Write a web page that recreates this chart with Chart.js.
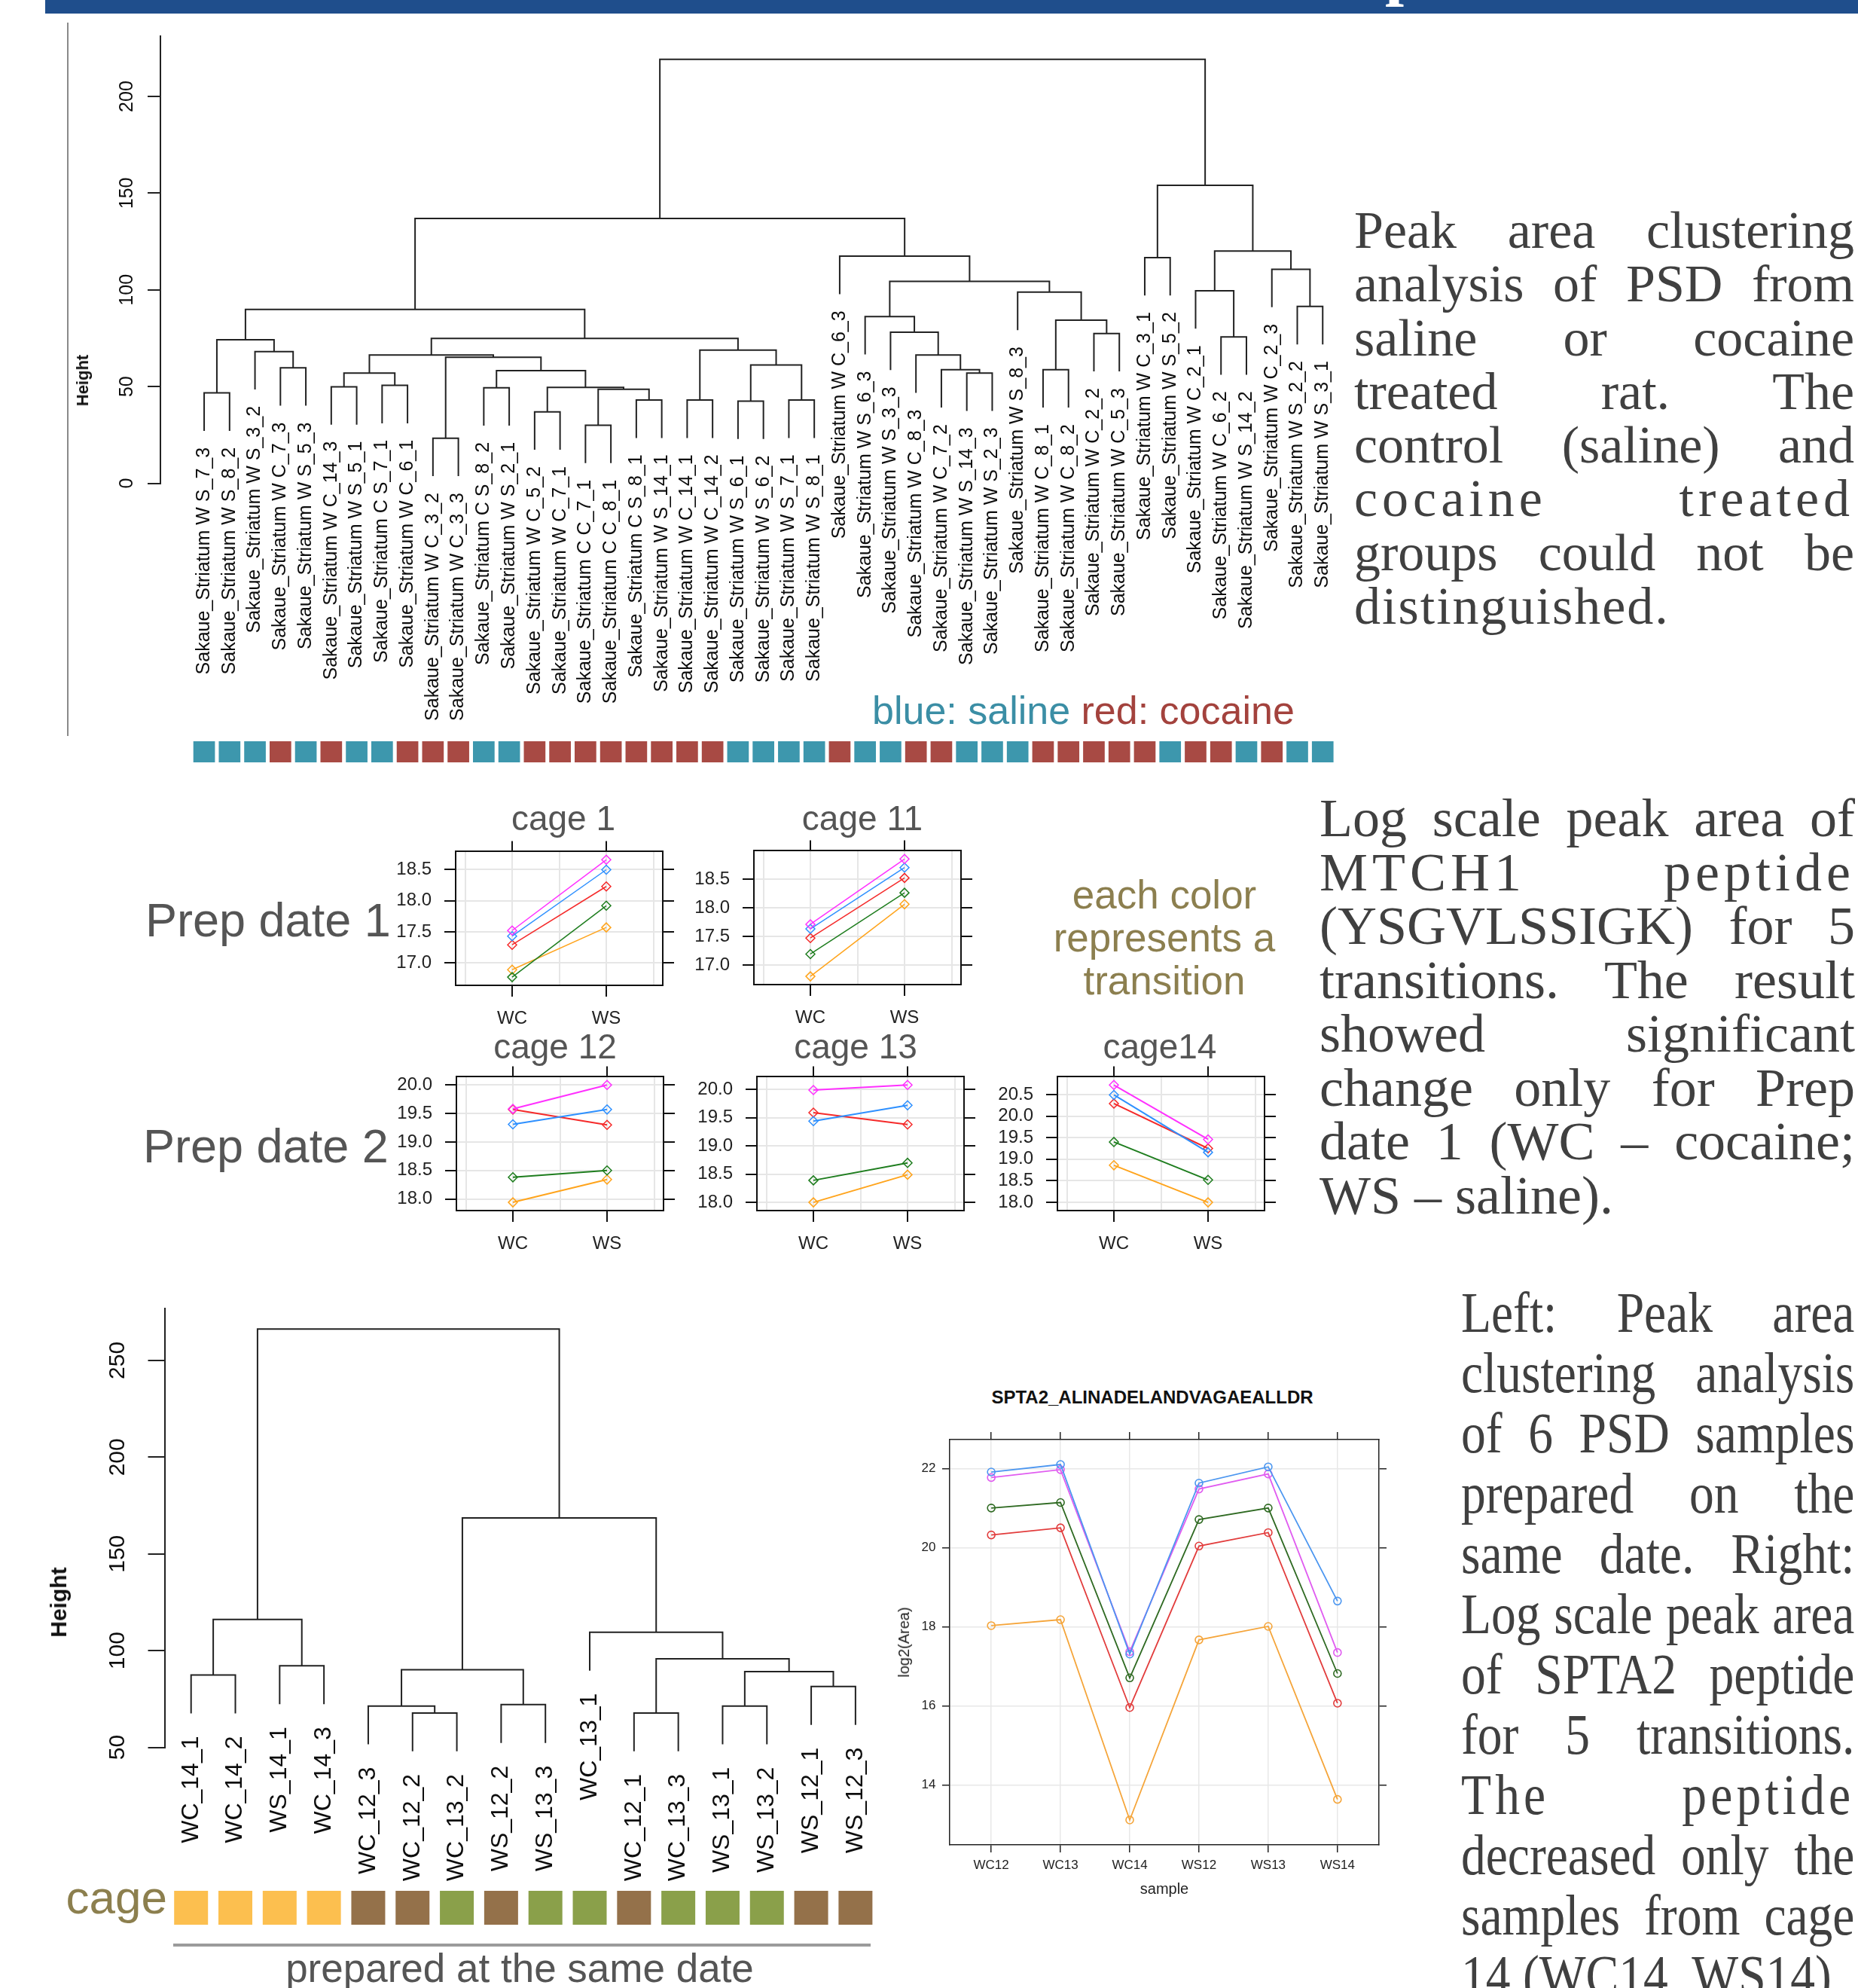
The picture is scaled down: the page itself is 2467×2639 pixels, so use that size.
<!DOCTYPE html>
<html>
<head>
<meta charset="utf-8">
<script src="https://cdn.jsdelivr.net/npm/chart.js@4.4.1/dist/chart.umd.min.js"></script>
<style>
  html, body { margin: 0; padding: 0; background: #fff; }
  #page { position: relative; width: 2467px; height: 2639px; overflow: hidden; background: #fff; }
  canvas { position: absolute; }
  .txt { position: absolute; white-space: nowrap; }
  .para { position: absolute; font-family: "Liberation Serif", "Times New Roman", serif; color: #404040; }
  .para div { text-align: justify; text-align-last: justify; }
  .para div.last { text-align: left; text-align-last: left; }
</style>
</head>
<body>
<div id="page">
  <div style="position:absolute; left:60px; top:0; width:2407px; height:18px; background:#1f4e8c; overflow:hidden;">
    <span style="position:absolute; left:1779px; top:-85px; font:bold 90px 'Liberation Serif'; line-height:90px; color:#fff;">p</span>
  </div>
  <div style="position:absolute; left:89px; top:30px; width:2px; height:947px; background:#8a8a8a;"></div>
</div>
<script>
// ---------- data ----------
const topLeafIds = [
  "W S_7_3", "W S_8_2", "W S_3_2", "W C_7_3", "W S_5_3", "W C_14_3", "W S_5_1", "C S_7_1", "W C_6_1",
  "W C_3_2", "W C_3_3", "C S_8_2", "W S_2_1", "W C_5_2", "W C_7_1", "C C_7_1", "C C_8_1", "C S_8_1",
  "W S_14_1", "W C_14_1", "W C_14_2", "W S_6_1", "W S_6_2", "W S_7_1", "W S_8_1", "W C_6_3", "W S_6_3",
  "W S_3_3", "W C_8_3", "W C_7_2", "W S_14_3", "W S_2_3", "W S_8_3", "W C_8_1", "W C_8_2", "W C_2_2",
  "W C_5_3", "W C_3_1", "W S_5_2", "W C_2_1", "W C_6_2", "W S_14_2", "W C_2_3", "W S_2_2", "W S_3_1"
];
const topLeaves = topLeafIds.map(s => "Sakaue_Striatum " + s);
const topGroups = "SSSCSCSSCCCSSCCCCCCCCSSSSCSSCCSSSCCCCCSCCSCSS".split("");
const topMerge = [
  [-1, -2], [-4, -5], [-3, 2], [1, 3], [-6, -7], [-8, -9], [5, 6], [-10, -11], [-12, -13], [-14, -15],
  [-16, -17], [-18, -19], [11, 12], [10, 13], [9, 14], [8, 15], [7, 16], [-20, -21], [-22, -23], [-24, -25],
  [19, 20], [18, 21], [17, 22], [4, 23], [-31, -32], [-30, 25], [-29, 26], [-28, 27], [-27, 28], [-34, -35],
  [-36, -37], [30, 31], [-33, 32], [29, 33], [-26, 34], [24, 35], [-38, -39], [-41, -42], [-40, 38], [-44, -45],
  [-43, 40], [39, 41], [37, 42], [36, 43]
];
const topHeight = [
  46.7, 59.7, 68.1, 74.2, 49.9, 50.6, 57.0, 23.3, 49.4, 36.9,
  30.0, 43.0, 48.6, 49.6, 58.2, 65.1, 66.3, 43.0, 42.5, 43.0,
  61.2, 68.8, 74.9, 89.9, 57.0, 58.7, 66.3, 78.1, 86.2, 58.7,
  77.4, 84.3, 98.8, 104.4, 117.4, 136.9, 116.7, 75.7, 99.5, 91.4,
  110.6, 120.1, 154.1, 219.2
];
const topYTicks = [0, 50, 100, 150, 200];

const botLeaves = ["WC_14_1", "WC_14_2", "WS_14_1", "WC_14_3", "WC_12_3", "WC_12_2", "WC_13_2", "WS_12_2",
  "WS_13_3", "WC_13_1", "WC_12_1", "WC_13_3", "WS_13_1", "WS_13_2", "WS_12_1", "WS_12_3"];
const botCage = [14, 14, 14, 14, 12, 12, 13, 12, 13, 13, 12, 13, 13, 13, 12, 12];
const botMerge = [
  [-1, -2], [-3, -4], [1, 2], [-6, -7], [-5, 4], [-8, -9], [5, 6], [-11, -12], [-13, -14], [-15, -16],
  [9, 10], [8, 11], [-10, 12], [7, 13], [3, 14]
];
const botHeight = [87.4, 92.2, 116.1, 67.8, 71.4, 72.1, 90.1, 67.8, 71.4, 81.5, 89.2, 95.8, 109.5, 168.6, 266.2];
const botYTicks = [50, 100, 150, 200, 250];

// transitions: magenta, blue, red, green, orange
const cage1WC = [17.52, 17.43, 17.29, 16.77, 16.89];
const cage1WS = [18.66, 18.50, 18.23, 17.92, 17.57];
const cage11WC = [17.71, 17.63, 17.47, 17.19, 16.80];
const cage11WS = [18.85, 18.70, 18.52, 18.26, 18.06];
const cage12WC = [19.58, 19.31, 19.57, 18.38, 17.94];
const cage12WS = [20.00, 19.57, 19.30, 18.50, 18.34];
const cage13WC = [19.99, 19.44, 19.59, 18.39, 18.00];
const cage13WS = [20.08, 19.72, 19.38, 18.70, 18.49];
const cage14WC = [20.72, 20.49, 20.29, 19.40, 18.86];
const cage14WS = [19.46, 19.16, 19.25, 18.52, 18.00];
const ticksDate1 = [17.0, 17.5, 18.0, 18.5];
const ticksDate2 = [18.0, 18.5, 19.0, 19.5, 20.0];
const ticksCage14 = [18.0, 18.5, 19.0, 19.5, 20.0, 20.5];

const sampleLabels = ["WC12", "WC13", "WC14", "WS12", "WS13", "WS14"];
const spta2Blue = [21.91, 22.10, 17.31, 21.63, 22.04, 18.65];
const spta2Magenta = [21.77, 21.97, 17.37, 21.48, 21.86, 17.35];
const spta2Green = [21.00, 21.14, 16.71, 20.71, 21.00, 16.82];
const spta2Red = [20.32, 20.50, 15.96, 20.04, 20.38, 16.07];
const spta2Orange = [18.03, 18.18, 13.12, 17.67, 18.01, 13.64];
const spta2YTicks = [14, 16, 18, 20, 22];

// ---------- helpers ----------
const SANS = '"Liberation Sans", Arial, Helvetica, sans-serif';
Chart.defaults.font.family = SANS;
Chart.defaults.animation = false;
const page = document.getElementById("page");

function makeCanvas(left, top, w, h) {
  const c = document.createElement("canvas");
  c.width = w; c.height = h;
  c.style.left = left + "px"; c.style.top = top + "px";
  c.style.width = w + "px"; c.style.height = h + "px";
  page.appendChild(c);
  return c.getContext("2d");
}

function addText(html, o) {
  const d = document.createElement("div");
  d.className = "txt";
  d.innerHTML = html;
  d.style.font = (o.weight || "normal") + " " + o.size + "px " + (o.family || SANS);
  d.style.lineHeight = o.size + "px";
  d.style.color = o.color || "#555";
  d.style.top = (o.baseline - 0.8465 * o.size) + "px";
  if (o.align === "center") { d.style.left = o.x + "px"; d.style.transform = "translateX(-50%)"; }
  else if (o.align === "right") { d.style.right = (2467 - o.x) + "px"; }
  else { d.style.left = o.x + "px"; }
  page.appendChild(d);
}

function addRotText(str, cx, cy, size, weight, color) {
  const d = document.createElement("div");
  d.className = "txt";
  d.textContent = str;
  d.style.font = weight + " " + size + "px " + SANS;
  d.style.lineHeight = size + "px";
  d.style.color = color;
  d.style.left = cx + "px"; d.style.top = cy + "px";
  d.style.transform = "translate(-50%, -50%) rotate(-90deg)";
  page.appendChild(d);
}

function addPara(lines, o) {
  const box = document.createElement("div");
  box.className = "para";
  box.style.left = o.x + "px"; box.style.top = o.top + "px"; box.style.width = o.width + "px";
  box.style.fontSize = o.size + "px"; box.style.lineHeight = o.lh + "px";
  if (o.scaleX) { box.style.transform = "scaleX(" + o.scaleX + ")"; box.style.transformOrigin = "0 0"; }
  lines.forEach((ln, i) => {
    const d = document.createElement("div");
    d.textContent = typeof ln === "string" ? ln : ln.text;
    if (ln.ls) d.style.letterSpacing = ln.ls + "px";
    if (i === lines.length - 1) d.className = "last";
    box.appendChild(d);
  });
  page.appendChild(box);
}

// R style hclust layout: leaves hang 0.1 * range(height) below their merge
function layoutDendro(merge, heights) {
  const hang = 0.1 * (Math.max(...heights) - Math.min(...heights));
  const nodes = [], bottoms = [], segs = [];
  merge.forEach((pair, i) => {
    const h = heights[i];
    const ends = pair.map(id => {
      if (id < 0) { bottoms[-id - 1] = h - hang; return { x: -id, y: h - hang }; }
      return nodes[id - 1];
    });
    segs.push([{ x: ends[0].x, y: ends[0].y }, { x: ends[0].x, y: h }, { x: ends[1].x, y: h }, { x: ends[1].x, y: ends[1].y }]);
    nodes.push({ x: (ends[0].x + ends[1].x) / 2, y: h });
  });
  return { segs, bottoms };
}

function dendroText(cfg) {
  return {
    id: "dendroText",
    afterDatasetsDraw(chart) {
      const { ctx } = chart;
      const x = chart.scales.x, y = chart.scales.y;
      ctx.save();
      ctx.fillStyle = "#0d0d0d";
      ctx.textBaseline = "middle";
      ctx.font = cfg.tickFont;
      ctx.textAlign = "center";
      cfg.ticks.forEach(v => {
        ctx.save();
        ctx.translate(cfg.tickX, y.getPixelForValue(v));
        ctx.rotate(-Math.PI / 2);
        ctx.fillText(String(v), 0, 0);
        ctx.restore();
      });
      ctx.font = cfg.leafFont;
      ctx.textAlign = "right";
      cfg.labels.forEach((lab, i) => {
        ctx.save();
        ctx.translate(x.getPixelForValue(i + 1), y.getPixelForValue(cfg.bottoms[i]) + cfg.gap);
        ctx.rotate(-Math.PI / 2);
        ctx.fillText(lab, 0, 0);
        ctx.restore();
      });
      ctx.restore();
    }
  };
}

function drawDendro(d) {
  const lay = layoutDendro(d.merge, d.heights);
  const ctx = makeCanvas(d.left, d.top, d.w, d.h);
  new Chart(ctx, {
    type: "scatter",
    data: {
      datasets: lay.segs.map(s => ({
        data: s, showLine: true, borderColor: "#222", borderWidth: 2, pointRadius: 0, clip: false
      }))
    },
    options: {
      responsive: false, animation: false, devicePixelRatio: 1,
      layout: { padding: d.padding },
      plugins: { legend: { display: false }, tooltip: { enabled: false } },
      scales: {
        x: { type: "linear", display: false, min: d.xMin, max: d.xMax },
        y: {
          type: "linear", position: "left", min: d.yMin, max: d.yMax,
          afterFit: s => { s.width = d.axisX; },
          afterBuildTicks: s => { s.ticks = d.yTicks.map(v => ({ value: v })); },
          ticks: { display: false },
          grid: { drawOnChartArea: false, tickLength: d.tickLen, tickColor: "#222", lineWidth: 2 },
          border: { color: "#222", width: 2 }
        }
      }
    },
    plugins: [dendroText({
      ticks: d.yTicks, tickX: d.tickX, tickFont: d.tickFont, leafFont: d.leafFont,
      labels: d.labels, bottoms: lay.bottoms, gap: d.gap
    })]
  });
}

function drawStrip(s) {
  const ctx = makeCanvas(s.left, s.top, s.w, s.h);
  new Chart(ctx, {
    type: "bar",
    data: {
      datasets: [{
        data: s.colors.map((c, i) => ({ x: i + 1, y: 1 })),
        backgroundColor: s.colors, borderWidth: 0,
        barPercentage: s.bar, categoryPercentage: 1
      }]
    },
    options: {
      responsive: false, animation: false, devicePixelRatio: 1,
      layout: { padding: { left: s.padLeft, right: s.padRight, top: 0, bottom: 0 } },
      plugins: { legend: { display: false }, tooltip: { enabled: false } },
      scales: {
        x: { type: "linear", display: false, min: s.xMin, max: s.xMax, offset: false },
        y: { display: false, min: 0, max: 1 }
      }
    }
  });
}

// ---------- top dendrogram ----------
drawDendro({
  left: 0, top: 0, w: 1800, h: 1030,
  merge: topMerge, heights: topHeight, labels: topLeaves, yTicks: topYTicks,
  xMin: -0.72, xMax: 46, yMin: 0, yMax: 231.3,
  padding: { left: 0, right: 10, top: 47.7, bottom: 388.5 },
  axisX: 213, tickLen: 17, tickX: 169, gap: 22,
  tickFont: "25px " + SANS, leafFont: "25px " + SANS
});
drawStrip({
  left: 0, top: 984, w: 1800, h: 28, padLeft: 213, padRight: 10, xMin: -0.72, xMax: 46, bar: 0.85,
  colors: topGroups.map(g => g === "S" ? "#3d97ad" : "#a84a44")
});
addRotText("Height", 110, 505, 22, "bold", "#111");
addText('<span style="color:#3b8ea5">blue: saline </span><span style="color:#a3423d">red: cocaine</span>',
  { x: 1158, baseline: 961, size: 52 });

// ---------- lattice panels ----------
const transColors = ["#ff30ff", "#2e90ff", "#f52a2a", "#1e7d1e", "#ffa41c"];

function drawPanel(p) {
  const L = 140, R = 30, T = 30, B = 60, W = 275, H = 179;
  const ctx = makeCanvas(p.boxLeft - L, p.boxTop - T, L + W + R, T + H + B);
  const all = p.wc.concat(p.ws);
  const lo = Math.min(...all), hi = Math.max(...all), pad = 0.07 * (hi - lo);
  const yMin = lo - pad, yMax = hi + pad;
  const tickFont = { family: SANS, size: 24 };
  const ink = "#111";
  new Chart(ctx, {
    type: "line",
    data: {
      datasets: p.wc.map((v, i) => ({
        data: [{ x: 1, y: v }, { x: 2, y: p.ws[i] }],
        borderColor: transColors[i], borderWidth: p.lw,
        pointStyle: "rectRot", pointRadius: 6, pointBorderWidth: 1.5,
        pointBackgroundColor: "rgba(0,0,0,0)", pointBorderColor: transColors[i]
      }))
    },
    options: {
      responsive: false, animation: false, devicePixelRatio: 1,
      layout: { padding: 0 },
      plugins: { legend: { display: false }, tooltip: { enabled: false } },
      scales: {
        x: {
          type: "linear", position: "bottom", min: 0.4, max: 2.6,
          afterFit: s => { s.height = B; },
          afterBuildTicks: s => { s.ticks = [0.5, 1, 1.5, 2, 2.5].map(v => ({ value: v })); },
          ticks: { autoSkip: false, maxRotation: 0, padding: 15, font: tickFont, color: "#222",
            callback: v => v === 1 ? "WC" : (v === 2 ? "WS" : "") },
          grid: { color: "#e6e6e6", lineWidth: 2, tickLength: 15,
            tickColor: c => (c.tick && (c.tick.value === 1 || c.tick.value === 2)) ? ink : "rgba(0,0,0,0)" },
          border: { color: ink, width: 2 }
        },
        xTop: {
          type: "linear", position: "top", min: 0.4, max: 2.6,
          afterFit: s => { s.height = T; },
          afterBuildTicks: s => { s.ticks = [1, 2].map(v => ({ value: v })); },
          ticks: { display: false },
          grid: { drawOnChartArea: false, tickLength: 14, tickColor: ink, lineWidth: 2 },
          border: { color: ink, width: 2 }
        },
        y: {
          type: "linear", position: "left", min: yMin, max: yMax,
          afterFit: s => { s.width = L; },
          afterBuildTicks: s => { s.ticks = p.ticks.map(v => ({ value: v })); },
          ticks: { padding: 17, font: tickFont, color: "#222", callback: v => v.toFixed(1) },
          grid: { color: "#e6e6e6", lineWidth: 2, tickLength: 15, tickColor: ink },
          border: { color: ink, width: 2 }
        },
        yRight: {
          type: "linear", position: "right", min: yMin, max: yMax,
          afterFit: s => { s.width = R; },
          afterBuildTicks: s => { s.ticks = p.ticks.map(v => ({ value: v })); },
          ticks: { display: false },
          grid: { drawOnChartArea: false, tickLength: 15, tickColor: ink, lineWidth: 2 },
          border: { color: ink, width: 2 }
        }
      }
    }
  });
  addText(p.title, { x: p.boxLeft + p.titleDx, baseline: p.boxTop - p.titleUp, size: 46, align: "center", color: "#555" });
}

drawPanel({ boxLeft: 605, boxTop: 1129, wc: cage1WC, ws: cage1WS, ticks: ticksDate1, lw: 1.5, title: "cage 1", titleDx: 143, titleUp: 27 });
drawPanel({ boxLeft: 1001, boxTop: 1128, wc: cage11WC, ws: cage11WS, ticks: ticksDate1, lw: 1.5, title: "cage 11", titleDx: 144, titleUp: 26 });
drawPanel({ boxLeft: 606, boxTop: 1428, wc: cage12WC, ws: cage12WS, ticks: ticksDate2, lw: 2, title: "cage 12", titleDx: 131, titleUp: 23 });
drawPanel({ boxLeft: 1005, boxTop: 1428, wc: cage13WC, ws: cage13WS, ticks: ticksDate2, lw: 2, title: "cage 13", titleDx: 131, titleUp: 23 });
drawPanel({ boxLeft: 1404, boxTop: 1428, wc: cage14WC, ws: cage14WS, ticks: ticksCage14, lw: 2, title: "cage14", titleDx: 136, titleUp: 23 });

addText("Prep date 1", { x: 193, baseline: 1243, size: 63, color: "#555" });
addText("Prep date 2", { x: 190, baseline: 1543, size: 63, color: "#555" });
addText("each color", { x: 1546, baseline: 1206, size: 53, align: "center", color: "#8c7f4f" });
addText("represents a", { x: 1546, baseline: 1263, size: 53, align: "center", color: "#8c7f4f" });
addText("transition", { x: 1546, baseline: 1320, size: 53, align: "center", color: "#8c7f4f" });

// ---------- bottom dendrogram ----------
drawDendro({
  left: 0, top: 1700, w: 1200, h: 820,
  merge: botMerge, heights: botHeight, labels: botLeaves, yTicks: botYTicks,
  xMin: 0.41, xMax: 16.75, yMin: 50, yMax: 277,
  padding: { left: 0, right: 20, top: 36.5, bottom: 200.4 },
  axisX: 219, tickLen: 22.5, tickX: 156.4, gap: 30,
  tickFont: "30px " + SANS, leafFont: "32px " + SANS
});
const cageColor = { 12: "#94714a", 13: "#8aa04a", 14: "#fcbf4f" };
drawStrip({
  left: 0, top: 2510, w: 1200, h: 45, padLeft: 219, padRight: 20, xMin: 0.41, xMax: 16.75, bar: 0.765,
  colors: botCage.map(c => cageColor[c])
});
addRotText("Height", 78, 2127, 30, "bold", "#111");
addText("cage", { x: 222, baseline: 2540, size: 62, align: "right", color: "#8c7f4e" });
const rule = document.createElement("div");
rule.style.cssText = "position:absolute; left:230px; top:2580px; width:926px; height:4px; background:#9b9b9b;";
page.appendChild(rule);
addText("prepared at the same date", { x: 690, baseline: 2631, size: 53, align: "center", color: "#555" });

// ---------- SPTA2 line chart ----------
(function () {
  const L = 100, R = 25, T = 20, B = 60;
  const ctx = makeCanvas(1261 - L, 1911 - T, L + 570 + R, T + 538 + B);
  const series = [spta2Blue, spta2Magenta, spta2Green, spta2Red, spta2Orange];
  const cols = ["#4b96f0", "#e05cf0", "#2f6a22", "#e23c3c", "#f5a53a"];
  const all = [].concat(...series);
  const lo = Math.min(...all), hi = Math.max(...all), pad = 0.07 * (hi - lo);
  const ink = "#222";
  const tf = { family: SANS, size: 17 };
  new Chart(ctx, {
    type: "line",
    data: {
      datasets: series.map((vals, k) => ({
        data: vals.map((v, i) => ({ x: i + 1, y: v })),
        borderColor: cols[k], borderWidth: 1.8,
        pointStyle: "circle", pointRadius: 5, pointBorderWidth: 1.6,
        pointBackgroundColor: "rgba(0,0,0,0)", pointBorderColor: cols[k]
      }))
    },
    options: {
      responsive: false, animation: false, devicePixelRatio: 1,
      layout: { padding: 0 },
      plugins: { legend: { display: false }, tooltip: { enabled: false } },
      scales: {
        x: {
          type: "linear", position: "bottom", min: 0.4, max: sampleLabels.length + 0.6,
          afterFit: s => { s.height = B; },
          afterBuildTicks: s => { s.ticks = sampleLabels.map((t, i) => ({ value: i + 1 })); },
          ticks: { autoSkip: false, maxRotation: 0, padding: 7, font: tf, color: ink,
            callback: v => sampleLabels[v - 1] },
          grid: { color: "#e8e8e8", lineWidth: 1.5, tickLength: 10, tickColor: ink },
          border: { color: ink, width: 1.5 }
        },
        xTop: {
          type: "linear", position: "top", min: 0.4, max: sampleLabels.length + 0.6,
          afterFit: s => { s.height = T; },
          afterBuildTicks: s => { s.ticks = sampleLabels.map((t, i) => ({ value: i + 1 })); },
          ticks: { display: false },
          grid: { drawOnChartArea: false, tickLength: 10, tickColor: ink, lineWidth: 1.5 },
          border: { color: ink, width: 1.5 }
        },
        y: {
          type: "linear", position: "left", min: lo - pad, max: hi + pad,
          afterFit: s => { s.width = L; },
          afterBuildTicks: s => { s.ticks = spta2YTicks.map(v => ({ value: v })); },
          ticks: { padding: 8.5, font: tf, color: ink },
          grid: { color: "#e8e8e8", lineWidth: 1.5, tickLength: 10, tickColor: ink },
          border: { color: ink, width: 1.5 }
        },
        yRight: {
          type: "linear", position: "right", min: lo - pad, max: hi + pad,
          afterFit: s => { s.width = R; },
          afterBuildTicks: s => { s.ticks = spta2YTicks.map(v => ({ value: v })); },
          ticks: { display: false },
          grid: { drawOnChartArea: false, tickLength: 10, tickColor: ink, lineWidth: 1.5 },
          border: { color: ink, width: 1.5 }
        }
      }
    }
  });
})();
addText("SPTA2_ALINADELANDVAGAEALLDR", { x: 1530, baseline: 1863, size: 24, weight: "bold", align: "center", color: "#111" });
addText("sample", { x: 1546, baseline: 2514, size: 20, align: "center", color: "#222" });
addRotText("log2(Area)", 1200, 2180, 20, "normal", "#222");

// ---------- paragraphs ----------
addPara(["Peak area clustering", "analysis of PSD from", "saline or cocaine", "treated rat. The",
  "control (saline) and", { text: "cocaine treated", ls: 6 }, "groups could not be", { text: "distinguished.", ls: 2 }],
  { x: 1798, top: 270, width: 664, size: 70, lh: 71.3 });
addPara(["Log scale peak area of", { text: "MTCH1 peptide", ls: 6 }, "(YSGVLSSIGK) for 5", "transitions. The result",
  "showed significant", "change only for Prep", "date 1 (WC \u2013 cocaine;", "WS \u2013 saline)."],
  { x: 1752, top: 1051, width: 711, size: 72, lh: 71.5 });
addPara(["Left: Peak area", "clustering analysis", "of 6 PSD samples", "prepared on the", "same date. Right:",
  "Log scale peak area", "of SPTA2 peptide", "for 5 transitions.", { text: "The peptide", ls: 6 },
  "decreased only the", "samples from cage", "14 (WC14, WS14)."],
  { x: 1940, top: 1702, width: 606, size: 76, lh: 80, scaleX: 0.862 });
</script>
</body>
</html>
